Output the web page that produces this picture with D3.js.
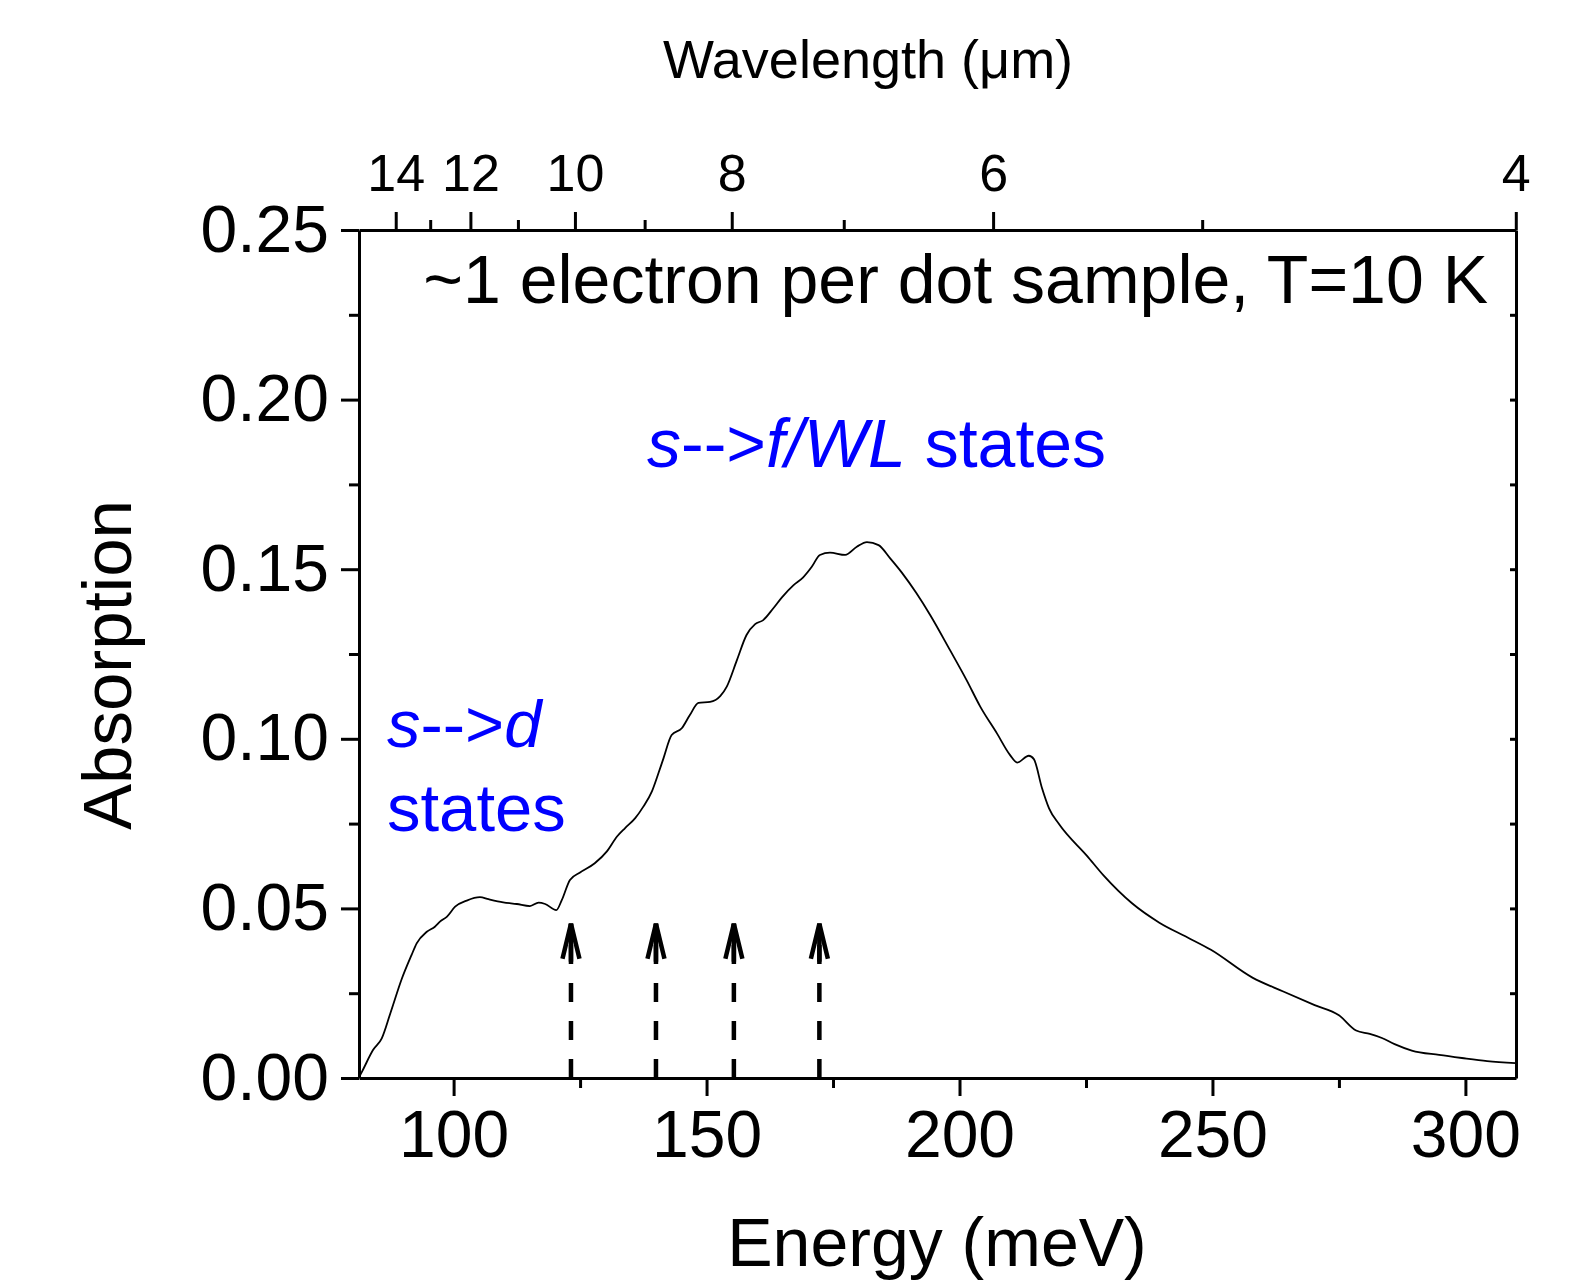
<!DOCTYPE html>
<html>
<head>
<meta charset="utf-8">
<script src="https://cdn.jsdelivr.net/npm/d3@7"></script>
<style>
  body { margin: 0; background: #fff; }
  text { font-family: "Liberation Sans", Arial, Helvetica, sans-serif; }
</style>
</head>
<body>
<svg id="chart"></svg>
<script>
// Spectrum: energy (meV) and absorption
const energy = [81.4, 81.9, 84.1, 85.8, 87.5, 89.8, 91.7, 92.7, 94.7, 96.3, 97.3, 98.7,
  100.3, 102.6, 105.2, 106.9, 109.8, 112.5, 115.1, 116.8, 118.1, 120.3, 121.4, 123.0,
  125.0, 127.9, 130.3, 132.3, 133.9, 135.9, 137.5, 139.2, 140.5, 141.5, 143.1, 145.1,
  146.7, 148.4, 150.7, 152.7, 154.0, 156.0, 157.9, 159.6, 161.2, 163.2, 164.9, 167.2,
  169.1, 170.8, 172.4, 174.4, 177.4, 179.7, 181.7, 184.0, 186.3, 188.6, 191.5, 194.2,
  198.1, 201.4, 204.1, 207.4, 210.0, 211.4, 213.7, 214.7, 216.3, 217.7, 219.7, 225.2,
  228.6, 234.1, 239.5, 245.0, 249.7, 257.9, 264.0, 270.2, 275.0, 278.4, 281.1, 283.5,
  286.0, 289.4, 294.8, 299.3, 304.3, 309.9];
const absorption = [0.0005, 0.0019, 0.0083, 0.0117, 0.0191, 0.0294, 0.0363, 0.0397, 0.0431, 0.0446, 0.0461, 0.0476,
  0.0505, 0.0523, 0.0533, 0.0527, 0.0518, 0.0513, 0.0507, 0.0517, 0.0513, 0.0495, 0.0525, 0.0584,
  0.0606, 0.0633, 0.0668, 0.0712, 0.0737, 0.0766, 0.0800, 0.0845, 0.0899, 0.0943, 0.1011, 0.1031,
  0.1070, 0.1106, 0.1109, 0.1126, 0.1154, 0.1232, 0.1306, 0.1338, 0.1350, 0.1385, 0.1417, 0.1453,
  0.1476, 0.1507, 0.1542, 0.1549, 0.1542, 0.1566, 0.1580, 0.1571, 0.1532, 0.1490, 0.1429, 0.1365,
  0.1262, 0.1173, 0.1095, 0.1016, 0.0952, 0.0930, 0.0950, 0.0940, 0.0855, 0.0795, 0.0748, 0.0655,
  0.0595, 0.0515, 0.0458, 0.0415, 0.0378, 0.0296, 0.0255, 0.0215, 0.0185, 0.0140, 0.0130, 0.0118,
  0.0100, 0.0081, 0.0068, 0.0059, 0.0050, 0.0044];

// Transition arrows (meV) and their tip height
const arrowEnergy = [123.2, 140.0, 155.4, 172.3];
const arrowTop = 0.0455;

// Tick values
const energyTicks = [100, 150, 200, 250, 300];
const energyMinor = [125, 175, 225, 275];
const absTicks = [0, 0.05, 0.10, 0.15, 0.20, 0.25];
const absMinor = [0.025, 0.075, 0.125, 0.175, 0.225];
const wlTicks = [14, 12, 10, 8, 6, 4];
const wlMinor = [13, 11, 9, 7, 5];

const HC = 1239.84; // meV * um

// Layout
const margin = { top: 230, right: 57, bottom: 206, left: 359 };
const W = 1573, H = 1284;
const width = W - margin.left - margin.right;
const height = H - margin.top - margin.bottom;

const svg = d3.select("#chart").attr("width", W).attr("height", H);
const g = svg.append("g").attr("transform", `translate(${margin.left},${margin.top})`);

const x = d3.scaleLinear().domain([81.3, 310]).range([0, width]);
const y = d3.scaleLinear().domain([0, 0.25]).range([height, 0]);

const axisStroke = 3;

// Bottom axis (energy)
const xAxis = g.append("g")
  .attr("transform", `translate(0,${height})`)
  .call(d3.axisBottom(x).tickValues(energyTicks).tickSize(18).tickSizeOuter(0).tickPadding(14).tickFormat(d3.format("d")));
g.append("g")
  .attr("transform", `translate(0,${height})`)
  .call(d3.axisBottom(x).tickValues(energyMinor).tickSize(10).tickSizeOuter(0).tickFormat(""))
  .call(a => a.select(".domain").remove());

// Left axis (absorption)
const yAxis = g.append("g")
  .call(d3.axisLeft(y).tickValues(absTicks).tickSize(18).tickSizeOuter(0).tickPadding(12).tickFormat(d3.format(".2f")));
g.append("g")
  .call(d3.axisLeft(y).tickValues(absMinor).tickSize(10).tickSizeOuter(0).tickFormat(""))
  .call(a => a.select(".domain").remove());

// Right spine with small inward ticks
g.append("g")
  .attr("transform", `translate(${width},0)`)
  .call(d3.axisRight(y).tickValues(absTicks.concat(absMinor)).tickSize(-6).tickSizeOuter(0).tickFormat(""));

// Top axis (wavelength)
g.append("g")
  .call(d3.axisTop(x).tickValues(wlTicks.map(l => HC / l)).tickSize(18).tickSizeOuter(0).tickPadding(21)
    .tickFormat((d, i) => wlTicks[i]))
  .call(a => a.selectAll("text").attr("font-size", 52));
g.append("g")
  .call(d3.axisTop(x).tickValues(wlMinor.map(l => HC / l)).tickSize(10).tickSizeOuter(0).tickFormat(""))
  .call(a => a.select(".domain").remove());

g.selectAll(".domain").attr("stroke", "#000").attr("stroke-width", axisStroke);
g.selectAll(".tick line").attr("stroke", "#000").attr("stroke-width", axisStroke);
xAxis.selectAll("text").attr("font-size", 66).attr("fill", "#000");
yAxis.selectAll("text").attr("font-size", 66).attr("fill", "#000");
g.selectAll(".tick text").attr("font-family", null);

// Spectrum
const pts = energy.map((e, i) => [e, absorption[i]]);
g.append("path")
  .datum(pts)
  .attr("fill", "none")
  .attr("stroke", "#000")
  .attr("stroke-width", 1.8)
  .attr("d", d3.line().x(d => x(d[0])).y(d => y(d[1])).curve(d3.curveMonotoneX));

// Dashed arrows
const arrows = g.selectAll(".arrow").data(arrowEnergy).join("g").attr("class", "arrow");
arrows.append("line")
  .attr("x1", d => x(d)).attr("x2", d => x(d))
  .attr("y1", y(0)).attr("y2", y(arrowTop))
  .attr("stroke", "#000").attr("stroke-width", 4.5).attr("stroke-dasharray", "19,19");
arrows.append("line")
  .attr("x1", d => x(d)).attr("x2", d => x(d))
  .attr("y1", y(arrowTop) + 38).attr("y2", y(arrowTop))
  .attr("stroke", "#000").attr("stroke-width", 4.5);
arrows.append("path")
  .attr("d", d => `M${x(d) - 8.5},${y(arrowTop) + 35}L${x(d)},${y(arrowTop)}L${x(d) + 8.5},${y(arrowTop) + 35}`)
  .attr("fill", "none").attr("stroke", "#000").attr("stroke-width", 4.5).attr("stroke-linejoin", "miter");

// Axis titles
svg.append("text")
  .attr("x", 868).attr("y", 78)
  .attr("text-anchor", "middle").attr("font-size", 54)
  .text("Wavelength (\u03bcm)");

svg.append("text")
  .attr("x", 937).attr("y", 1266)
  .attr("text-anchor", "middle").attr("font-size", 68)
  .text("Energy (meV)");

svg.append("text")
  .attr("transform", "translate(131,665) rotate(-90)")
  .attr("text-anchor", "middle").attr("font-size", 69)
  .text("Absorption");

// Annotations
svg.append("text")
  .attr("x", 1488).attr("y", 303)
  .attr("text-anchor", "end").attr("font-size", 68)
  .text("~1 electron per dot sample, T=10 K");

const blue = "#0000ff";
const t1 = svg.append("text").attr("x", 647).attr("y", 467).attr("font-size", 68).attr("fill", blue);
t1.append("tspan").attr("font-style", "italic").text("s");
t1.append("tspan").text("-->");
t1.append("tspan").attr("font-style", "italic").text("f/WL");
t1.append("tspan").text(" states");

const t2 = svg.append("text").attr("x", 387).attr("y", 747).attr("font-size", 67).attr("fill", blue);
t2.append("tspan").attr("font-style", "italic").text("s");
t2.append("tspan").text("-->");
t2.append("tspan").attr("font-style", "italic").text("d");

svg.append("text").attr("x", 387).attr("y", 831).attr("font-size", 67).attr("fill", blue).text("states");
</script>
</body>
</html>
